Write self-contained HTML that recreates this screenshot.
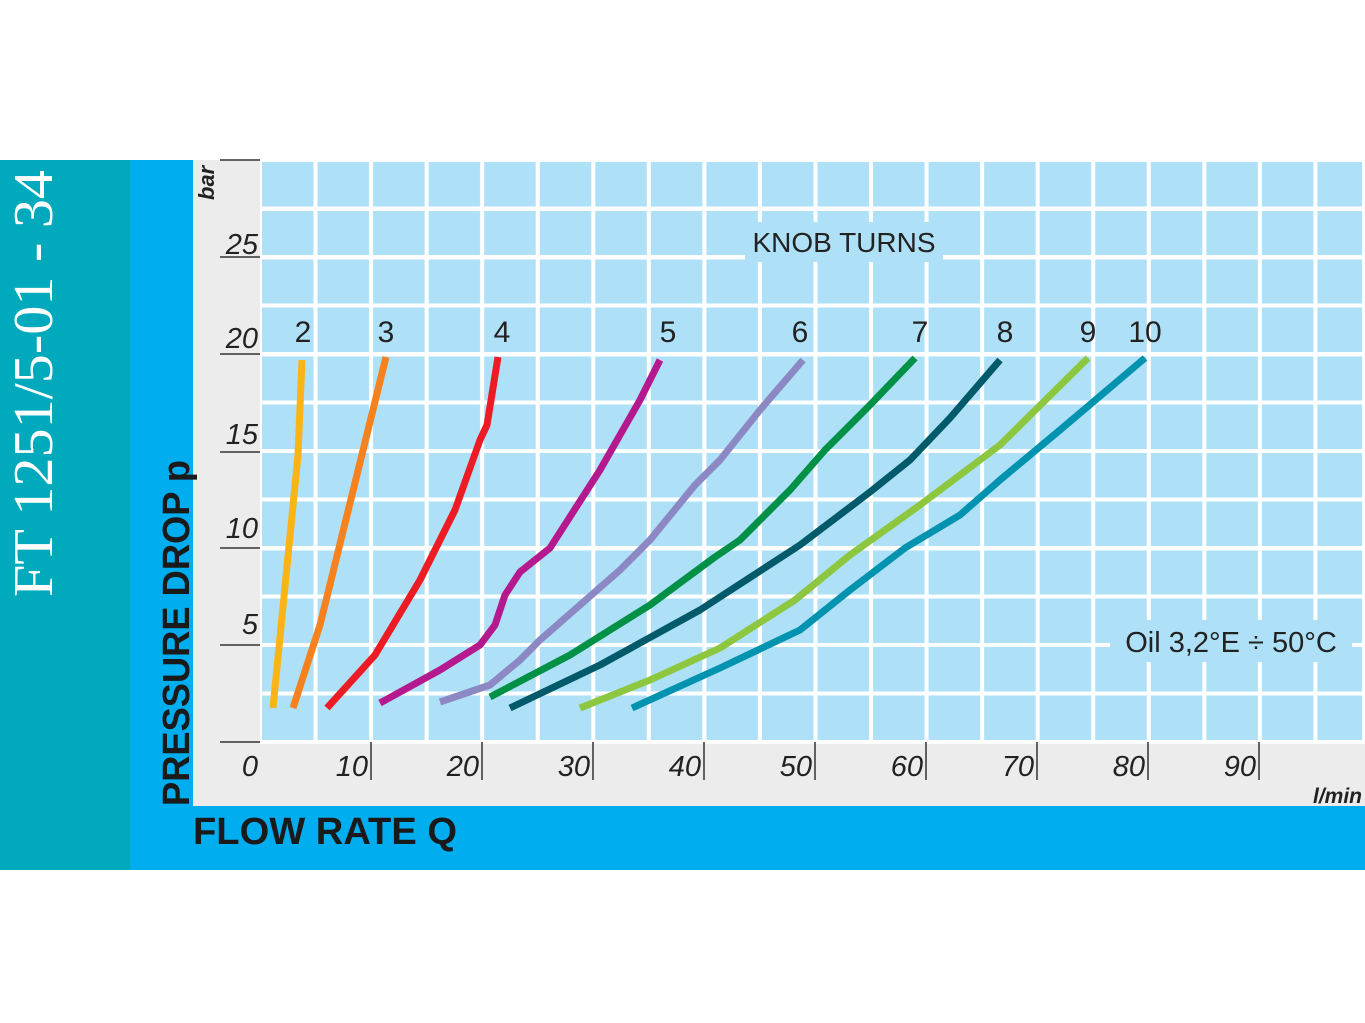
<!DOCTYPE html>
<html><head><meta charset="utf-8"><style>body{margin:0;background:#fff}svg{display:block}</style></head>
<body>
<svg width="1365" height="1023" xmlns="http://www.w3.org/2000/svg" font-family="Liberation Sans, sans-serif">
<rect x="0" y="0" width="1365" height="1023" fill="#fff"/>
<rect x="0" y="160" width="130" height="710" fill="#00a9bb"/>
<rect x="130" y="160" width="1235" height="710" fill="#00adef"/>
<rect x="193" y="160" width="1172" height="646" fill="#ececec"/>
<rect x="260" y="160" width="1105" height="584" fill="#fff"/>
<g fill="#aee0f7">
<script></script>
</g>
<g id="cells"></g>
<g fill="#aee0f7">
<!-- cells generated as pattern -->
</g>
<defs>
<pattern id="grid" x="262" y="162" width="55.55" height="48.5" patternUnits="userSpaceOnUse">
<rect x="0" y="0" width="51.5" height="44.5" fill="#aee0f7"/>
</pattern>
</defs>
<rect x="262" y="162" width="1100" height="578" fill="url(#grid)"/>
<!-- y ticks -->
<g stroke="#333" stroke-width="1.5">
<line x1="220" y1="160" x2="260" y2="160"/>
<line x1="220" y1="257" x2="260" y2="257"/>
<line x1="220" y1="354" x2="260" y2="354"/>
<line x1="220" y1="452" x2="260" y2="452"/>
<line x1="220" y1="548" x2="260" y2="548"/>
<line x1="220" y1="645" x2="260" y2="645"/>
<line x1="220" y1="742" x2="260" y2="742"/>
<line x1="371" y1="742" x2="371" y2="780"/>
<line x1="482" y1="742" x2="482" y2="780"/>
<line x1="593" y1="742" x2="593" y2="780"/>
<line x1="704" y1="742" x2="704" y2="780"/>
<line x1="815" y1="742" x2="815" y2="780"/>
<line x1="926" y1="742" x2="926" y2="780"/>
<line x1="1037" y1="742" x2="1037" y2="780"/>
<line x1="1148" y1="742" x2="1148" y2="780"/>
<line x1="1259" y1="742" x2="1259" y2="780"/>
</g>
<g font-style="italic" font-size="29" fill="#222" text-anchor="end">
<text x="258" y="254">25</text>
<text x="258" y="348">20</text>
<text x="258" y="444">15</text>
<text x="258" y="538">10</text>
<text x="258" y="634">5</text>
<text x="258" y="776">0</text>
<text x="368" y="776">10</text>
<text x="479" y="776">20</text>
<text x="590" y="776">30</text>
<text x="701" y="776">40</text>
<text x="812" y="776">50</text>
<text x="923" y="776">60</text>
<text x="1034" y="776">70</text>
<text x="1145" y="776">80</text>
<text x="1256" y="776">90</text>
</g>
<text transform="translate(214,200) rotate(-90)" font-size="22" font-style="italic" font-weight="bold" fill="#222">bar</text>
<text x="1362" y="803" text-anchor="end" font-size="21" font-style="italic" font-weight="bold" fill="#222">l/min</text>
<rect x="745" y="222" width="198" height="40" fill="#aee0f7"/>
<text x="844" y="252" text-anchor="middle" font-size="28" fill="#222">KNOB TURNS</text>
<rect x="1110" y="620" width="242" height="42" fill="#aee0f7"/>
<text x="1231" y="652" text-anchor="middle" font-size="29" fill="#222">Oil 3,2°E ÷ 50°C</text>
<g font-size="30" fill="#222" text-anchor="middle">
<text x="303" y="342">2</text><text x="386" y="342">3</text><text x="502" y="342">4</text>
<text x="668" y="342">5</text><text x="800" y="342">6</text><text x="920" y="342">7</text>
<text x="1005" y="342">8</text><text x="1088" y="342">9</text><text x="1145" y="342">10</text>
</g>
<g fill="none" stroke-width="7" stroke-linejoin="round">
<polyline stroke="#fbb415" points="273,708 298,455 302,360"/>
<polyline stroke="#f5821f" points="293,708 320,625 386,357"/>
<polyline stroke="#ed1c24" points="327,708 375,655 420,580 455,510 480,440 487,425 498,357"/>
<polyline stroke="#b5198e" points="380,703 440,670 480,645 495,625 505,595 520,572 550,548 600,470 640,400 660,360"/>
<polyline stroke="#8c88c4" points="440,702 490,685 520,660 540,640 580,605 620,570 650,540 695,485 720,460 760,410 803,360"/>
<polyline stroke="#009046" points="490,697 570,655 650,605 715,557 740,540 790,490 825,450 870,405 915,358"/>
<polyline stroke="#005a6a" points="510,708 600,665 700,610 800,545 870,492 910,460 950,418 1000,360"/>
<polyline stroke="#8dc63f" points="580,708 650,680 720,648 795,600 850,555 920,505 1000,445 1088,358"/>
<polyline stroke="#0093b0" points="632,708 720,668 800,630 850,590 905,548 960,515 1000,480 1060,430 1145,358"/>
</g>
<text transform="translate(52,597) rotate(-90)" font-family="Liberation Serif, serif" font-size="56" fill="#fff" textLength="427" lengthAdjust="spacingAndGlyphs">FT 1251/5-01 - 34</text>
<text transform="translate(189,806) rotate(-90)" font-size="38" font-weight="bold" fill="#1a1a1a" textLength="346" lengthAdjust="spacingAndGlyphs">PRESSURE DROP p</text>
<text x="193" y="844" font-size="38" font-weight="bold" fill="#1a1a1a" textLength="264" lengthAdjust="spacingAndGlyphs">FLOW RATE Q</text>
</svg>
</body></html>
